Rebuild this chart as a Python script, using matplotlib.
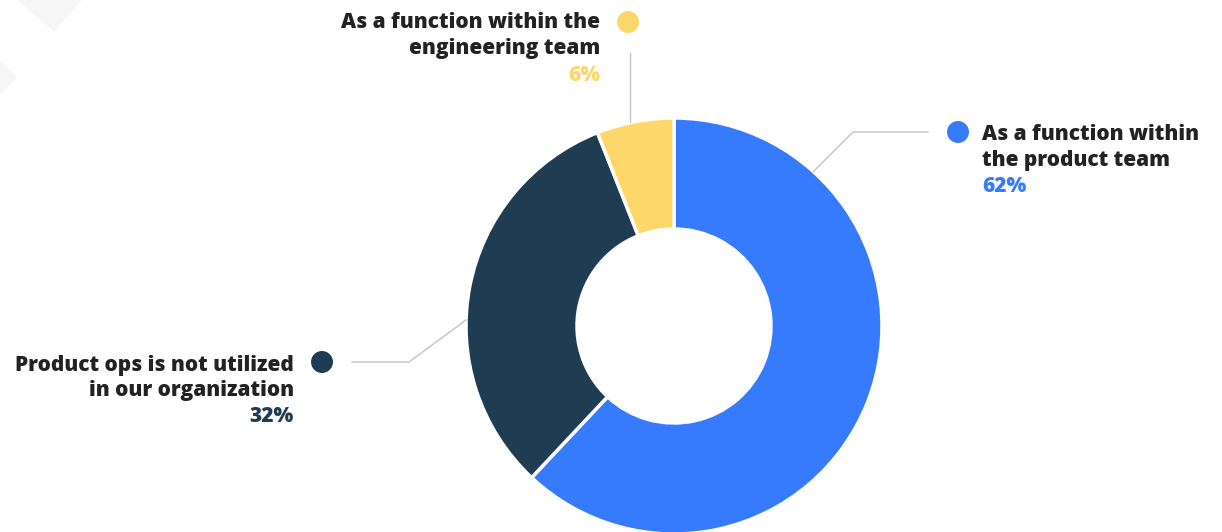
import matplotlib.pyplot as plt
from matplotlib.patches import Polygon

# data
labels = [['As a function within', 'the product team'],
          ['Product ops is not utilized', 'in our organization'],
          ['As a function within the', 'engineering team']]
values = [62, 32, 6]
colors = ['#367BFE', '#1F3C52', '#FED76A']

W, H = 1222, 532
fig = plt.figure(figsize=(W / 100, H / 100), dpi=100)
ax = fig.add_axes([0, 0, 1, 1])

def Y(y):
    # pixel row (from top) -> data y
    return H - y

# faint background diamonds
ax.add_patch(Polygon([(17, Y(0)), (82, Y(0)), (54, Y(32))], closed=True,
                     facecolor='#f6f6f6', edgecolor='none', zorder=0))
ax.add_patch(Polygon([(0, Y(60)), (17, Y(77)), (0, Y(95))], closed=True,
                     facecolor='#f6f6f6', edgecolor='none', zorder=0))

ax.pie(values, colors=colors, startangle=90, counterclock=False,
       radius=208, center=(674, Y(326)),
       wedgeprops=dict(width=111, edgecolor='white', linewidth=2.5))

ax.set_xlim(0, W)
ax.set_ylim(0, H)
ax.set_aspect('equal')
ax.axis('off')

font = dict(family='Open Sans', fontweight='heavy', fontsize=15)
line_c = '#c4c4c4'

# leader lines
ax.plot([813, 853, 928], [Y(172), Y(132), Y(132)], color=line_c, lw=1)
ax.plot([630, 630], [Y(122), Y(53)], color=line_c, lw=1)
ax.plot([466, 409, 352], [Y(320), Y(362), Y(362)], color=line_c, lw=1)

# markers
ax.scatter([958, 322, 628], [Y(132), Y(362), Y(22)], s=250, c=colors,
           edgecolors='none', zorder=5)

# labels: (x, align, baselines)
spots = [(982, 'left', [140, 166, 192]),
         (294, 'right', [371, 396, 422]),
         (600, 'right', [28, 54, 81])]
for (x, ha, bl), lab, v, c in zip(spots, labels, values, colors):
    for line, b in zip(lab, bl):
        ax.text(x, Y(b), line, ha=ha, va='baseline', color='#222222', **font)
    ax.text(x, Y(bl[2]), f'{v}%', ha=ha, va='baseline', color=c, **font)

fig.savefig('out.png', dpi=100, facecolor='white')
